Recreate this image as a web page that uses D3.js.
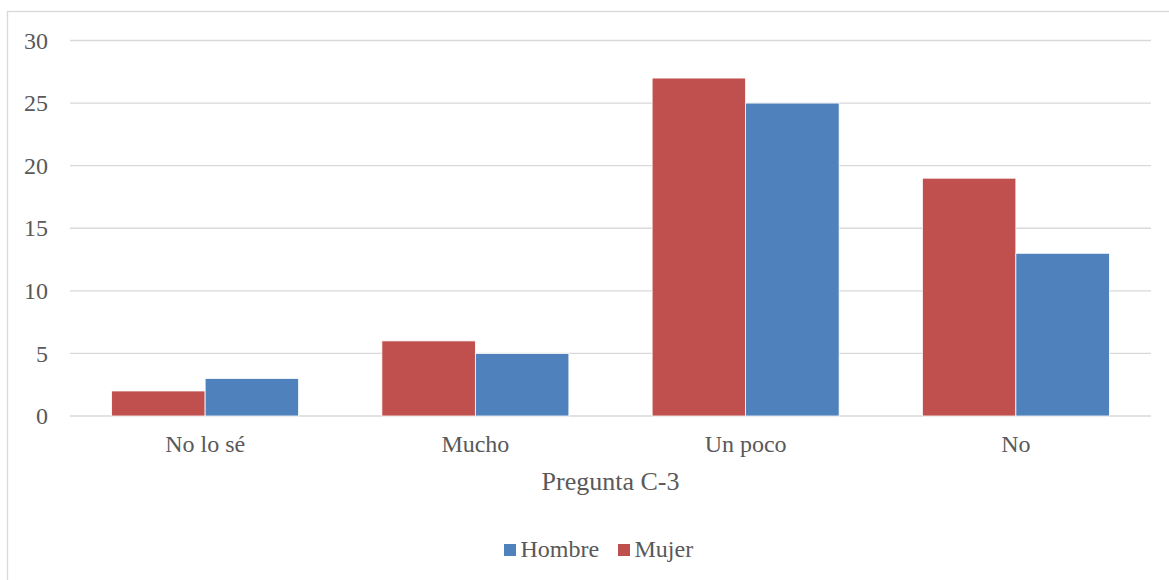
<!DOCTYPE html>
<html>
<head>
<meta charset="utf-8">
<script src="https://cdn.jsdelivr.net/npm/d3@7"></script>
<style>
  html, body { margin: 0; padding: 0; background: #fff; }
  svg { display: block; }
  text { font-family: "Liberation Serif", "Times New Roman", serif; fill: #595959; }
</style>
</head>
<body>
<svg id="chart" width="1169" height="580"></svg>
<script>
// Responses to question C-3, by sex
const categories = ["No lo sé", "Mucho", "Un poco", "No"];
const mujer = [2, 6, 27, 19];
const hombre = [3, 5, 25, 13];
const yTicks = [0, 5, 10, 15, 20, 25, 30];
const seriesNames = ["Mujer", "Hombre"];
const seriesColors = ["#C0504D", "#4F81BD"];
const axisTitle = "Pregunta C-3";
const legendOrder = ["Hombre", "Mujer"];

const svg = d3.select("#chart");
const W = 1169, H = 580;

// outer chart frame
svg.append("rect")
  .attr("x", 7.5).attr("y", 11.5)
  .attr("width", W + 20).attr("height", H + 20)
  .attr("fill", "none").attr("stroke", "#d9d9d9").attr("stroke-width", 1.3);

const plot = { left: 70, right: 1151, top: 40.5, bottom: 416 };

const x0 = d3.scaleBand().domain(categories)
  .range([plot.left, plot.right]).paddingInner(0).paddingOuter(0);
const barW = x0.bandwidth() * 0.346;
const x1 = d3.scaleBand().domain(seriesNames)
  .range([x0.bandwidth() / 2 - barW, x0.bandwidth() / 2 + barW]).padding(0);

const y = d3.scaleLinear().domain([0, 30]).range([plot.bottom, plot.top]);

// gridlines
svg.append("g").selectAll("line").data(yTicks).join("line")
  .attr("x1", plot.left).attr("x2", plot.right)
  .attr("y1", d => y(d)).attr("y2", d => y(d))
  .attr("stroke", "#d9d9d9").attr("stroke-width", 1.4);

// y tick labels
svg.append("g").selectAll("text").data(yTicks).join("text")
  .attr("x", 48).attr("y", d => y(d)).attr("dy", "0.34em")
  .attr("text-anchor", "end").attr("font-size", 24)
  .text(d => d);

// bars
const data = categories.map((c, i) => ({ cat: c, vals: [
  { s: "Mujer", v: mujer[i] }, { s: "Hombre", v: hombre[i] }] }));
const colorOf = d3.scaleOrdinal().domain(seriesNames).range(seriesColors);

svg.append("g").selectAll("g").data(data).join("g")
  .attr("transform", d => `translate(${x0(d.cat)},0)`)
  .selectAll("rect").data(d => d.vals).join("rect")
  .attr("x", d => x1(d.s)).attr("width", x1.bandwidth())
  .attr("y", d => y(d.v)).attr("height", d => y(0) - y(d.v))
  .attr("fill", d => colorOf(d.s))
  .attr("stroke", "#fff").attr("stroke-width", 0.8);

// category labels
svg.append("g").selectAll("text").data(categories).join("text")
  .attr("x", d => x0(d) + x0.bandwidth() / 2).attr("y", 452)
  .attr("text-anchor", "middle").attr("font-size", 24)
  .text(d => d);

// axis title
svg.append("text")
  .attr("x", (plot.left + plot.right) / 2).attr("y", 490)
  .attr("text-anchor", "middle").attr("font-size", 26)
  .text(axisTitle);

// legend
const legendX = { Hombre: 504, Mujer: 618 };
const lg = svg.append("g").selectAll("g").data(legendOrder).join("g")
  .attr("transform", d => `translate(${legendX[d]},544)`);
lg.append("rect").attr("width", 12).attr("height", 12)
  .attr("fill", d => colorOf(d));
lg.append("text").attr("x", 16.5).attr("y", 13)
  .attr("font-size", 24).text(d => d);
</script>
</body>
</html>
